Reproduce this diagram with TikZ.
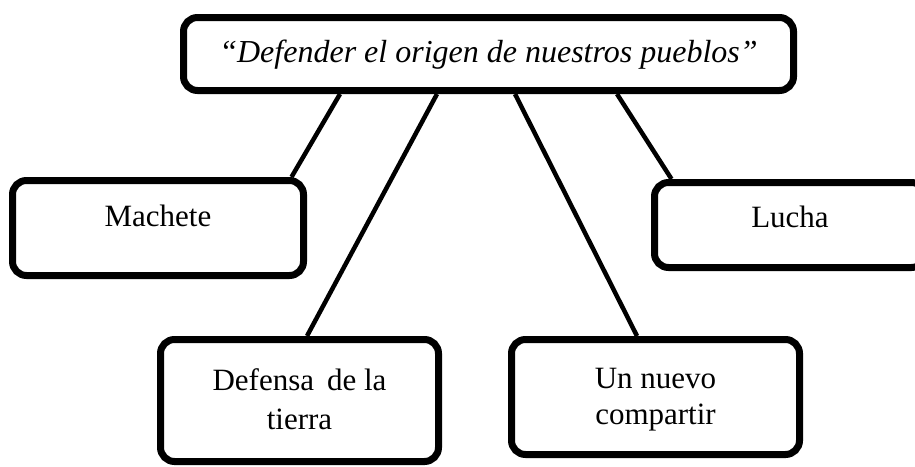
\documentclass[tikz,border=0pt]{standalone}
\usepackage{fontspec}
\setmainfont{Liberation Serif}

\begin{document}
\begin{tikzpicture}[x=1pt,y=-1pt,
 caja/.style={draw,line width=7pt,rounded corners=14pt,fill=white,inner sep=0pt},
 texto/.style={font=\fontsize{31}{36}\selectfont,align=center,inner sep=0pt},
 enlace/.style={line width=4.5pt}]
 \useasboundingbox (0,0) rectangle (915,466);
 % cajas
 \node[caja,minimum width=610pt,minimum height=73pt] (raiz) at (488.5,54) {};
 \node[caja,minimum width=291pt,minimum height=95pt] (machete) at (158,228) {};
 \node[caja,minimum width=271pt,minimum height=85pt] (lucha) at (790,225) {};
 \node[caja,minimum width=278pt,minimum height=122pt] (defensa) at (299.5,400.5) {};
 \node[caja,minimum width=288pt,minimum height=115pt] (nuevo) at (655.5,397) {};
 % textos
 \node[texto,font=\fontsize{32}{36}\selectfont\itshape] (traiz) at (488.5,55) {“Defender el origen de nuestros pueblos”};
 \node[texto] (tmachete) at (158,216) {Machete};
 \node[texto] (tlucha) at (790,217) {Lucha};
 \node[texto] (tdefensa) at (299.5,399) {Defensa\ \,de la\\[3pt]tierra};
 \node[texto] (tnuevo) at (655.5,400) {Un nuevo\\compartir};
 % enlaces
 \draw[enlace] ([xshift=-148.5pt]raiz.south) -- ([xshift=-15.5pt]machete.north east);
 \draw[enlace] ([xshift=-51.5pt]raiz.south) -- ([xshift=7.5pt]defensa.north);
 \draw[enlace] ([xshift=26.5pt]raiz.south) -- ([xshift=-18.5pt]nuevo.north);
 \draw[enlace] ([xshift=128.5pt]raiz.south) -- ([xshift=20.5pt]lucha.north west);
\end{tikzpicture}
\end{document}
